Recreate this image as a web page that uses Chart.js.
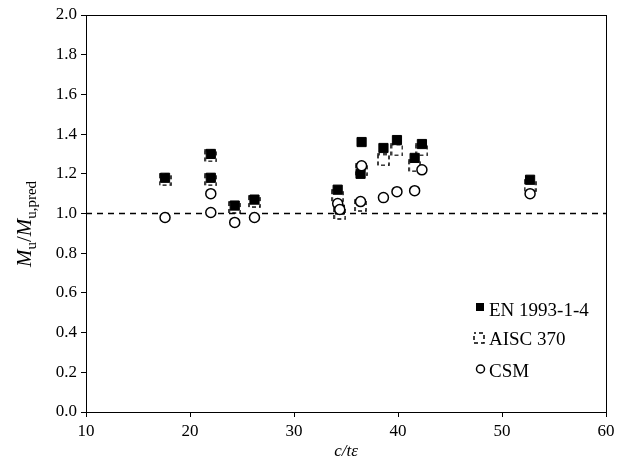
<!DOCTYPE html>
<html>
<head>
<meta charset="utf-8">
<script src="https://cdn.jsdelivr.net/npm/chart.js@4/dist/chart.umd.min.js"></script>
<style>
  body { margin: 0; background: #fff; }
  canvas { display: block; }
</style>
</head>
<body>
<canvas id="chart" width="626" height="461"></canvas>
<script>
// data
const ctRatio = [17.6, 22.0, 22.0, 24.3, 26.2, 34.2, 34.4, 36.4, 36.5, 38.6, 39.9, 41.6, 42.3, 52.7];
const enValues = [1.18, 1.30, 1.18, 1.04, 1.07, 1.12, 1.02, 1.20, 1.36, 1.33, 1.37, 1.28, 1.35, 1.17];
const aiscValues = [1.17, 1.29, 1.17, 1.03, 1.06, 1.09, 1.00, 1.04, 1.22, 1.27, 1.32, 1.24, 1.32, 1.14];
const csmValues = [0.98, 1.10, 1.005, 0.955, 0.98, 1.05, 1.02, 1.06, 1.24, 1.08, 1.11, 1.115, 1.22, 1.10];
const seriesNames = ['EN 1993-1-4', 'AISC 370', 'CSM'];
const refLine = [{ x: 10, y: 1 }, { x: 60, y: 1 }];

const serif = "'Liberation Serif', 'Times New Roman', serif";

// dashed square marker for AISC
function dashedSquare(size) {
  const c = document.createElement('canvas');
  c.width = size;
  c.height = size;
  const g = c.getContext('2d');
  g.strokeStyle = '#000';
  g.lineWidth = 1.5;
  g.setLineDash([4, 3]);
  g.lineDashOffset = 2;
  g.strokeRect(1, 1, size - 2, size - 2);
  return c;
}
const aiscMarker = dashedSquare(13);
const aiscLegendMarker = dashedSquare(12);

function pts(ys) {
  return ctRatio.map((x, i) => ({ x: x, y: ys[i] }));
}

// frame, axis titles and legend
const extras = {
  id: 'extras',
  afterDraw(chart) {
    const ctx = chart.ctx;
    const a = chart.chartArea;
    ctx.save();
    ctx.strokeStyle = '#000';
    ctx.lineWidth = 1;
    ctx.strokeRect(a.left + 0.5, a.top + 0.5, a.right - a.left, a.bottom - a.top);

    // x title
    ctx.fillStyle = '#000';
    ctx.font = 'italic 17px ' + serif;
    ctx.textAlign = 'center';
    ctx.textBaseline = 'alphabetic';
    ctx.fillText('c/t\u03b5', (a.left + a.right) / 2, 456);

    // y title with subscripts
    const parts = [
      { t: 'M', f: 'italic 21px ' + serif, dy: 0 },
      { t: 'u', f: '15px ' + serif, dy: 5 },
      { t: '/', f: '21px ' + serif, dy: 0 },
      { t: 'M', f: 'italic 21px ' + serif, dy: 0 },
      { t: 'u,pred', f: '15px ' + serif, dy: 5 }
    ];
    let total = 0;
    parts.forEach(p => { ctx.font = p.f; p.w = ctx.measureText(p.t).width; total += p.w; });
    ctx.translate(31, 224);
    ctx.rotate(-Math.PI / 2);
    ctx.textAlign = 'left';
    let x = -total / 2;
    parts.forEach(p => {
      ctx.font = p.f;
      ctx.fillText(p.t, x, p.dy);
      x += p.w;
    });
    ctx.restore();

    // legend
    ctx.save();
    ctx.fillStyle = '#000';
    ctx.font = '19px ' + serif;
    ctx.textBaseline = 'alphabetic';
    ctx.textAlign = 'left';
    ctx.fillRect(476, 303, 8, 8);
    ctx.fillText(seriesNames[0], 489, 316);
    ctx.drawImage(aiscLegendMarker, 473, 332);
    ctx.fillText(seriesNames[1], 489, 345);
    ctx.beginPath();
    ctx.lineWidth = 1.5;
    ctx.arc(480.5, 369, 4, 0, Math.PI * 2);
    ctx.stroke();
    ctx.fillText(seriesNames[2], 489, 377);
    ctx.restore();
  }
};

new Chart(document.getElementById('chart'), {
  type: 'scatter',
  data: {
    datasets: [
      {
        label: seriesNames[2],
        data: pts(csmValues),
        pointStyle: 'circle',
        pointRadius: 5,
        borderWidth: 1.5,
        borderColor: '#000',
        backgroundColor: '#fff',
        order: 0
      },
      {
        label: seriesNames[1],
        data: pts(aiscValues),
        pointStyle: aiscMarker,
        order: 1
      },
      {
        label: seriesNames[0],
        data: pts(enValues),
        pointStyle: 'rect',
        pointRadius: 6.5,
        borderWidth: 1,
        borderColor: '#000',
        backgroundColor: '#000',
        order: 2
      },
      {
        type: 'line',
        data: refLine,
        borderColor: '#000',
        borderWidth: 1.3,
        borderDash: [6, 5],
        pointRadius: 0,
        fill: false,
        order: 3
      }
    ]
  },
  options: {
    responsive: false,
    animation: false,
    layout: { padding: { top: 15, right: 20, left: 0, bottom: 0 } },
    plugins: {
      legend: { display: false },
      tooltip: { enabled: false }
    },
    scales: {
      x: {
        type: 'linear',
        min: 10,
        max: 60,
        afterFit: s => { s.height = 49; },
        ticks: { stepSize: 10, color: '#000', font: { family: serif, size: 17 }, padding: 4 },
        grid: { drawOnChartArea: false, tickLength: 5, color: '#000' },
        border: { color: '#000' }
      },
      y: {
        min: 0,
        max: 2,
        afterFit: s => { s.width = 86; },
        ticks: {
          stepSize: 0.2,
          color: '#000',
          font: { family: serif, size: 17 },
          padding: 4,
          callback: v => v.toFixed(1)
        },
        grid: { drawOnChartArea: false, tickLength: 5, color: '#000' },
        border: { color: '#000' }
      }
    }
  },
  plugins: [extras]
});
</script>
</body>
</html>
